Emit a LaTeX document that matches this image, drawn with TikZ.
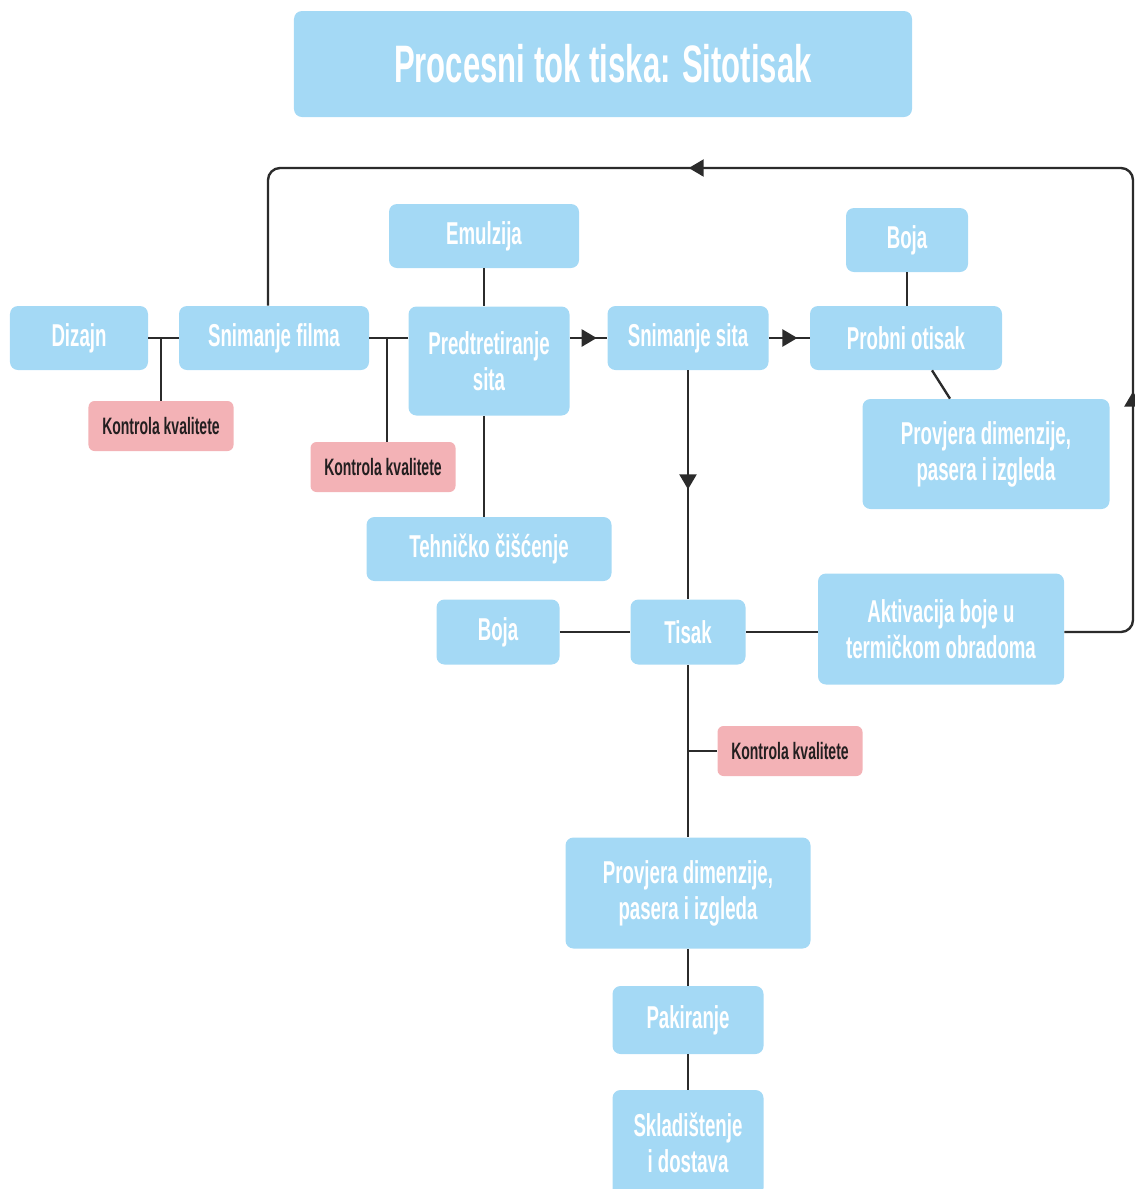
\documentclass[tikz,border=0pt]{standalone}
\usepackage{fontspec}
\newfontfamily\condfont{Liberation Sans Bold}[FakeStretch=0.59]
\usetikzlibrary{calc,arrows.meta,decorations.markings}
\definecolor{boxblue}{HTML}{A4D9F5}
\definecolor{boxpink}{HTML}{F3B2B6}
\definecolor{linegray}{HTML}{2B2B2B}
\definecolor{pinktext}{HTML}{231F20}

\begin{document}
\begin{tikzpicture}[x=0.2mm, y=-0.2mm,
		box/.style={rounded corners=1.6mm, fill=boxblue, text=white, inner sep=0pt, align=center, font=\condfont\fontsize{18}{20.5}\selectfont},
		qbox/.style={rounded corners=1.2mm, fill=boxpink, text=pinktext, inner sep=0pt, font=\condfont\fontsize{13.5}{15}\selectfont, minimum width=29mm, minimum height=10mm},
		conn/.style={draw=linegray, line width=1.35pt},
		midarrow/.style={postaction={decorate}, decoration={markings, mark=at position #1 with {\arrow{Triangle[length=3mm, width=3.4mm]}}}}]
		
		\useasboundingbox (0,0) rectangle (1134,1189);
		
		\node (title) at (603,64) [box, minimum width=123.6mm, minimum height=21.2mm, font=\condfont\fontsize{30}{32}\selectfont] {Procesni tok tiska: Sitotisak};
		
		\node (diz) at (79,338) [box, minimum width=27.6mm, minimum height=12.8mm] {Dizajn};
		\node (snf) at (274,338) [box, minimum width=38mm, minimum height=12.8mm] {Snimanje filma};
		\node (emul) at (484,236) [box, minimum width=38mm, minimum height=12.8mm] {Emulzija};
		\node (pred) at (489,361) [box, minimum width=32.2mm, minimum height=21.8mm] {Predtretiranje\\sita};
		\node (teh) at (489,549) [box, minimum width=49mm, minimum height=12.8mm] {Tehničko čišćenje};
		\node (sns) at (688,338) [box, minimum width=32.2mm, minimum height=12.8mm] {Snimanje sita};
		\node (boja1) at (907,240) [box, minimum width=24.4mm, minimum height=12.8mm] {Boja};
		\node (prob) at (906,338) [box, minimum width=38.4mm, minimum height=12.8mm] {Probni otisak};
		\node (prov1) at (986,454) [box, minimum width=49.4mm, minimum height=22mm] {Provjera dimenzije,\\pasera i izgleda};
		
		\node (kk1) at (161,426) [qbox] {Kontrola kvalitete};
		\node (kk2) at (383,467) [qbox] {Kontrola kvalitete};
		\node (kk3) at (790,751) [qbox] {Kontrola kvalitete};
		
		\node (boja2) at (498,632) [box, minimum width=24.6mm, minimum height=13mm] {Boja};
		\node (tisak) at (688,632) [box, minimum width=23mm, minimum height=13mm] {Tisak};
		\node (akt) at (941,629) [box, minimum width=49.2mm, minimum height=22.2mm] {Aktivacija boje u\\termičkom obradoma};
		\node (prov2) at (688,893) [box, minimum width=49mm, minimum height=22.2mm] {Provjera dimenzije,\\pasera i izgleda};
		\node (pak) at (688,1020) [box, minimum width=30.2mm, minimum height=13.6mm] {Pakiranje};
		\node (sklad) at (688,1143) [box, minimum width=30.2mm, minimum height=21.2mm] {Skladištenje\\i dostava};
		
		\draw[conn] (diz) -- (snf);
		\draw[conn] (kk1.north) -- (kk1.north |- diz.east);
		\draw[conn] (snf) -- (snf -| pred.west);
		\draw[conn] ($(kk2.north)+(4,0)$) -- ($(kk2.north |- snf.east)+(4,0)$);
		\draw[conn] (emul.south) -- (emul.south |- pred.north);
		\draw[conn] (emul.south |- pred.south) -- (emul.south |- teh.north);
		\draw[conn, midarrow=0.72] (pred.east |- sns.east) -- (sns.west);
		\draw[conn, midarrow=0.7] (sns) -- (prob);
		\draw[conn] (boja1) -- (boja1 |- prob.north);
		\draw[conn] ($(prob.south)+(26,0)$) -- ($(prov1.north)+(-36,0)$);
		\draw[conn, midarrow=0.52] (sns) -- (tisak);
		\draw[conn] (boja2) -- (tisak);
		\draw[conn] (tisak.east) -- (tisak.east -| akt.west);
		\draw[conn] (tisak) -- (prov2);
		\draw[conn] (kk3.west) -- (kk3.west -| tisak.south);
		\draw[conn] (prov2) -- (pak);
		\draw[conn] (pak) -- (sklad);
		
		\coordinate (tr) at (1133,168);
		\coordinate (tl) at (268,168);
		\draw[conn, rounded corners=2.4mm,
			postaction={decorate}, decoration={markings,
				mark=at position 0.2 with {\arrow{Triangle[length=3mm, width=3.4mm]}},
				mark=at position 0.636 with {\arrow{Triangle[length=3mm, width=3.4mm]}}}]
			(akt.east |- tisak.east) -- (tisak.east -| tr) -- (tr) -- (tl) -- (tl |- snf.north);
		
	\end{tikzpicture}
\end{document}
